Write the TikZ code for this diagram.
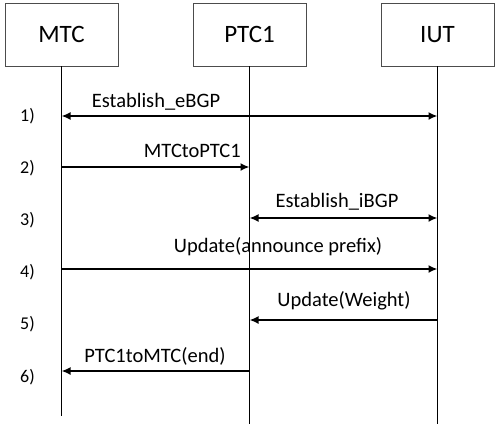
\documentclass[tikz,border=0pt]{standalone}
\usepackage{fontspec}
\setmainfont{Carlito}
\usetikzlibrary{arrows.meta}
\begin{document}
\begin{tikzpicture}[x=1pt,y=-1pt,
  ent/.style={draw=black!70,line width=0.9pt,minimum width=113pt,minimum height=63pt,inner sep=0pt,font=\fontsize{25}{29}\selectfont},
  life/.style={line width=0.8pt},
  msg/.style={line width=1.8pt,-{Latex[length=9pt,width=8pt]}},
  bmsg/.style={line width=1.8pt,{Latex[length=9pt,width=8pt]}-{Latex[length=9pt,width=8pt]}},
  lbl/.style={font=\fontsize{20.5}{24}\selectfont,inner sep=0pt},
  stp/.style={font=\fontsize{18}{21}\selectfont,inner sep=0pt}]
\useasboundingbox (0,0) rectangle (500,426);
\node[ent] (mtc) at (61.5,34.5) {MTC};
\node[ent] (ptc) at (249.5,34.5) {PTC1};
\node[ent] (iut) at (437.5,34.5) {IUT};
\coordinate (mtcE) at (61.5,416);
\coordinate (ptcE) at (249.5,424);
\coordinate (iutE) at (437.5,424);
\draw[life] (mtc.south) -- (mtcE);
\draw[life] (ptc.south) -- (ptcE);
\draw[life] (iut.south) -- (iutE);
% messages
\coordinate (a1) at (61.5,116); \coordinate (b1) at (437.5,116);
\coordinate (a2) at (61.5,167); \coordinate (b2) at (249.5,167);
\coordinate (a3) at (249.5,218); \coordinate (b3) at (437.5,218);
\coordinate (a4) at (61.5,269); \coordinate (b4) at (437.5,269);
\coordinate (a5) at (437.5,320); \coordinate (b5) at (249.5,320);
\coordinate (a6) at (249.5,371); \coordinate (b6) at (61.5,371);
\draw[bmsg] (a1) -- (b1);
\draw[msg] (a2) -- (b2);
\draw[bmsg] (a3) -- (b3);
\draw[msg] (a4) -- (b4);
\draw[msg] (a5) -- (b5);
\draw[msg] (a6) -- (b6);
\node[lbl] (l1) at (156,102) {Establish\_eBGP};
\node[lbl,anchor=east] (l2) at (241,151) {MTCtoPTC1};
\node[lbl] (l3) at (337,202) {Establish\_iBGP};
\node[lbl] (l4) at (278,247) {Update(announce prefix)};
\node[lbl] (l5) at (344,301) {Update(Weight)};
\node[lbl] (l6) at (155,356) {PTC1toMTC(end)};
\node[stp] (s1) at (27.5,116) {1)};
\node[stp] (s2) at (27.5,168) {2)};
\node[stp] (s3) at (27.5,220) {3)};
\node[stp] (s4) at (27.5,272) {4)};
\node[stp] (s5) at (27.5,324) {5)};
\node[stp] (s6) at (27.5,377) {6)};
\end{tikzpicture}
\end{document}
